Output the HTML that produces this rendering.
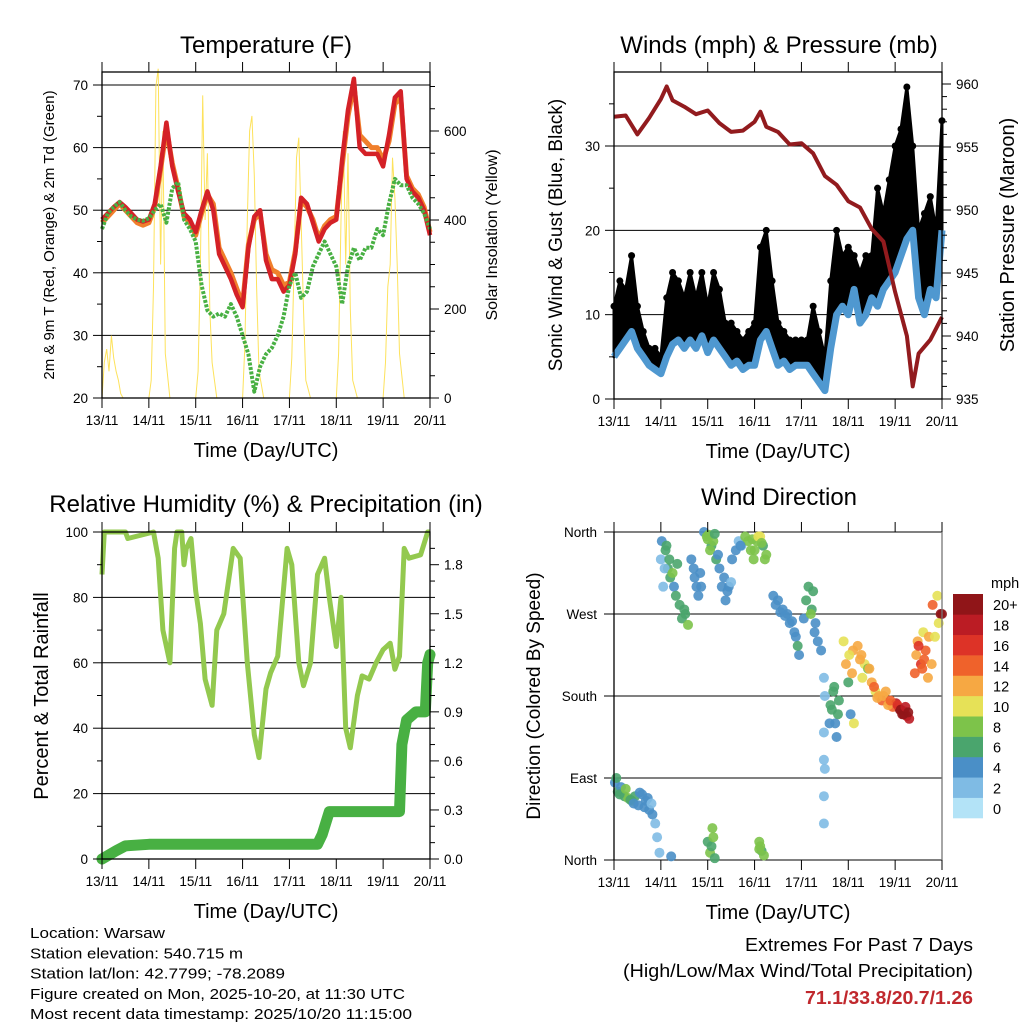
<!DOCTYPE html>
<html><head><meta charset="utf-8">
<style>
html,body{margin:0;padding:0;background:#fff;}
svg{display:block;font-family:"Liberation Sans",sans-serif;}
</style></head>
<body>
<svg id="chart" width="1024" height="1024" viewBox="0 0 1024 1024" xmlns="http://www.w3.org/2000/svg"></svg>
<script>
// ---------------- DATA ----------------
const dayLabels = ["13/11","14/11","15/11","16/11","17/11","18/11","19/11","20/11"];
const tempTimes = [0,0.125,0.25,0.375,0.5,0.625,0.75,0.875,1,1.125,1.25,1.375,1.5,1.625,1.75,1.875,2,2.125,2.25,2.375,2.5,2.625,2.75,2.875,3,3.125,3.25,3.375,3.5,3.625,3.75,3.875,4,4.125,4.25,4.375,4.5,4.625,4.75,4.875,5,5.125,5.25,5.375,5.5,5.625,5.75,5.875,6,6.125,6.25,6.375,6.5,6.625,6.75,6.875,7];
const temp2m = [48.5,49.5,50.5,51.3,50.5,49.5,48.5,48.2,48.5,51,57,64,57,53,49.5,48.5,46.5,50,53,50,43,41,39,36.5,34.5,44,49,50,42,39,39,37,38,43,52,51,48,45,47,48,48.5,58,66,71,60,59,59,59,57,62,68,69,55,53,52,50,46];
const temp9m = [48,49,50,51,50,49,48,47.6,48,50.5,56.5,63,57.5,53.5,49,48,46,49.5,52.5,51,44,42,40,37.5,35,44.5,48.5,49.5,43,40.5,40,38,38.5,43.5,51.5,50.5,48.5,45.5,47.5,48.5,49,57,65,70,62,61,60,60,58,61,67,68,55.5,53.5,52.5,50.5,46.5];
const dewpt = [47,49.5,50.5,51.3,50,49,48.5,48.3,48.7,50,51,48,53.5,54.5,48.5,47,45,38,34,33,33.5,33,35,33,30,27,21,25,27,28,30,33,38,40,36,37,41,43,45,43,41,35,41,44,42,44,44,47,46,51,55,54,54,52,51,49.5,47];
const solarTimes = [0,0.05,0.1,0.15,0.2,0.25,0.3,0.35,0.4,0.45,1.0,1.05,1.1,1.15,1.2,1.25,1.3,1.35,1.45,2.0,2.05,2.1,2.15,2.2,2.25,2.3,2.35,2.45,3.0,3.05,3.1,3.15,3.2,3.25,3.3,3.35,3.45,4.0,4.05,4.1,4.15,4.2,4.25,4.3,4.35,4.45,5.0,5.05,5.1,5.15,5.2,5.25,5.3,5.35,5.45,6.0,6.05,6.1,6.15,6.2,6.25,6.3,6.35,6.45,7];
const solarVals = [0,80,110,60,140,90,60,40,10,0,0,40,250,700,740,300,600,100,0,0,60,300,680,400,550,200,80,0,0,120,400,600,634,500,250,60,0,0,90,300,540,585,400,200,40,0,0,100,400,600,300,550,200,40,0,0,80,250,300,540,450,300,100,0,0];
const windTimes = tempTimes;
const sonicWind = [5,6,7,8,6,5,4,3.5,3,5,6.5,7,6,7,6,7.5,5.5,7,6,5,4,4.5,3.5,4,4,7,8,6,4,4.5,3.5,4,4,4,3,2,1,6,10,11,10,13,9,10,12,11,13,14,15,17,19,20,12,10,13,12,20];
const gustWind = [11,14,13,17,11,8,6,6,5,12,15,14,12,15,12,15,11,15,13,9,9,8,7,8,9,18,20,14,9,8,7,7,7,7,11,8,5,14,20,17,18,17,15,17,17,25,22,26,30,32,37,30,20,22,24,20,33];
const pressTimes = [0,0.25,0.5,0.75,1,1.125,1.25,1.5,1.75,2,2.25,2.5,2.75,3,3.125,3.25,3.5,3.75,4,4.25,4.5,4.75,5,5.25,5.5,5.75,6,6.25,6.375,6.5,6.75,7];
const pressVals = [957.4,957.5,956.0,957.3,958.8,959.8,958.7,958.2,957.6,957.9,956.9,956.2,956.3,957.0,957.8,956.6,956.2,955.2,955.3,954.5,952.7,952.0,950.7,950.2,948.5,947.5,943.5,940.0,936.0,938.6,939.7,941.5];
const rhTimes = [0,0.05,0.5,0.55,1.1,1.2,1.3,1.45,1.55,1.6,1.7,1.75,1.8,1.9,2.0,2.1,2.2,2.35,2.45,2.6,2.8,2.95,3.1,3.25,3.35,3.5,3.6,3.75,3.95,4.05,4.2,4.3,4.45,4.6,4.75,4.85,5.0,5.1,5.2,5.3,5.45,5.55,5.7,5.85,6.0,6.15,6.25,6.35,6.45,6.55,6.8,6.95,7];
const rhVals = [87,100,100,98,100,92,70,60,95,100,100,90,95,98,82,72,55,47,70,75,95,92,60,38,31,52,57,62,95,90,60,53,60,87,92,80,65,80,40,34,50,56,55,60,64,66,58,62,95,92,93,100,100];
const rainTimes = [0,0.3,0.5,1,4.6,4.7,4.85,6.35,6.4,6.5,6.7,6.9,6.95,7];
const rainVals = [0,0.05,0.08,0.09,0.09,0.15,0.29,0.29,0.7,0.85,0.9,0.9,1.2,1.25];
const dirTimes = [0.02,0.08,0.15,0.22,0.3,0.38,0.45,0.52,0.6,0.68,0.75,0.82,0.88,0.92,0.97,1.0,1.05,1.1,1.15,1.2,1.22,1.28,1.32,1.4,1.45,1.52,1.58,1.65,1.72,1.8,1.86,1.92,1.98,2.02,2.08,2.12,2.18,2.25,2.3,2.38,2.45,2.52,2.6,2.66,2.72,2.8,2.86,2.92,2.98,3.05,3.12,3.18,3.25,3.1,3.15,3.4,3.5,3.6,3.7,3.8,3.88,3.95,4.05,4.15,4.22,4.28,4.35,4.42,4.48,4.48,4.48,4.5,4.5,4.6,4.65,4.7,4.75,4.8,4.9,4.95,5.0,5.05,5.1,5.12,5.2,5.28,5.35,5.42,5.5,5.58,5.65,5.72,5.8,5.88,5.95,6.02,6.1,6.15,6.2,6.25,6.3,6.42,6.48,6.55,6.6,6.65,6.72,6.8,6.9,6.97,7.0,2.0,2.05,2.1,2.15,3.1,3.2,
 0.05,0.12,0.25,0.35,0.42,0.55,0.65,0.72,0.8,1.02,1.08,1.12,1.18,1.25,1.35,1.5,1.7,1.76,1.84,2.0,2.05,2.15,2.22,2.35,2.42,2.5,2.7,2.95,3.0,3.08,3.15,3.22,3.45,3.55,3.65,3.75,3.85,3.92,4.1,4.2,4.25,4.3,4.48,4.48,4.62,4.68,4.72,4.78,5.02,5.08,5.25,5.3,5.45,5.55,5.62,5.75,5.85,5.9,6.05,6.12,6.18,6.22,6.28,6.45,6.5,6.58,6.62,6.7,6.78,6.85,6.93,2.08,2.12,3.12];
const dirVals = [85,75,80,70,68,65,70,60,72,65,55,50,40,25,8,330,300,340,320,310,4,300,290,280,265,270,258,330,310,290,300,360,355,357,345,350,330,320,300,285,300,330,340,350,345,355,350,340,330,350,355,345,335,20,10,290,285,275,270,262,245,225,265,300,275,250,240,230,200,140,40,180,100,150,165,190,135,175,240,215,195,160,230,150,235,225,215,210,195,185,180,175,185,172,168,172,165,160,163,158,155,205,240,215,250,230,245,280,290,270,270,20,8,35,2,12,5,
 90,72,78,66,62,74,58,68,62,350,320,345,330,315,325,275,320,300,315,352,340,358,335,310,295,305,345,352,340,355,348,330,280,272,268,260,250,235,285,270,295,260,110,70,170,185,150,160,225,205,220,200,210,190,178,180,170,175,170,165,160,168,162,225,235,210,220,200,215,245,260,15,25,15];
const dirSpeed = [4,5,4,6,7,8,6,4,4,3,4,3,2,2,2,2,2,5,6,5,4,4,5,6,6,6,7,3,4,4,3,4,7,8,6,8,5,4,4,4,3,3,3,2,2,8,7,8,7,8,9,6,7,8,6,4,4,4,4,4,4,4,4,6,5,4,4,4,2,1,1,2,1,4,5,6,4,6,9,12,6,4,11,10,12,11,10,8,12,10,11,13,12,12,14,18,19,20,18,17,18,13,12,15,10,14,12,13,9,20,21,6,8,7,6,8,7,
 5,6,7,6,4,3,3,4,2,3,2,6,5,7,6,6,4,3,3,7,8,5,4,3,4,2,3,7,8,9,7,8,4,4,3,4,4,5,6,7,5,4,2,1,5,6,4,5,10,11,12,9,11,13,12,11,12,14,16,19,20,18,20,12,16,14,13,11,12,10,9,6,7,8];
const speedLabels = ["0","2","4","6","8","10","12","14","16","18","20+"];
const speedColors = ["#b3e3f7","#7fbbe4","#4a8fc7","#4aa56d","#7dc34a","#e6e157","#f6a843","#ef622b","#dd3327","#bb1c24","#901518"];

// ---------------- HELPERS ----------------
const svg = document.getElementById('chart');
const NS = "http://www.w3.org/2000/svg";
function mk(tag, attrs, parent, text){
  const e = document.createElementNS(NS, tag);
  for (const k in attrs) e.setAttribute(k, attrs[k]);
  if (text !== undefined) e.textContent = text;
  (parent || svg).appendChild(e);
  return e;
}
function lin(d0,d1,r0,r1){ return v => r0 + (v-d0)/(d1-d0)*(r1-r0); }
function pathFrom(xs, ys, sx, sy){ return xs.map((t,i)=>(i?'L':'M')+sx(t).toFixed(1)+','+sy(ys[i]).toFixed(1)).join(''); }
function panel(name){
  const g = mk('g', {});
  
  
  return g;
}
function frame(g, L, R, T, B){
  const f = mk('rect', {x:L, y:T, width:R-L, height:B-T, fill:'none', stroke:'#000', 'stroke-width':1.3}, g);
  
  
}
function timeAxis(g, sx, T, B){
  dayLabels.forEach((lab,i)=>{
    const x = sx(i);
    mk('line',{x1:x,y1:T-10,x2:x,y2:T,stroke:'#000','stroke-width':1},g);
    mk('line',{x1:x,y1:B,x2:x,y2:B+10,stroke:'#000','stroke-width':1},g);
    const t = mk('text',{x:x,y:B+27,'font-size':13.5,'text-anchor':'middle'},g,lab);
    
    
  });
  const tt = mk('text',{x:(sx(0)+sx(7))/2,y:B+59,'font-size':20,'text-anchor':'middle'},g,'Time (Day/UTC)');
  
  
}
function hgrid(g, ys, L, R){ ys.forEach(y=>mk('line',{x1:L,y1:y,x2:R,y2:y,stroke:'#000','stroke-width':1},g)); }
function title(g, x, y, s, txt){
  const t = mk('text',{x:x,y:y,'font-size':s,'text-anchor':'middle'},g,txt);
  
  
}
function vtitle(g, x, y, s, txt, name){
  const t = mk('text',{x:x,y:y,'font-size':s,'text-anchor':'middle',transform:`rotate(-90 ${x} ${y})`},g,txt);
  
  
}
function leftTicks(g, vals, labels, sy, L, minor){
  (minor||[]).forEach(v=>mk('line',{x1:L-5,y1:sy(v),x2:L,y2:sy(v),stroke:'#000'},g));
  vals.forEach((v,i)=>{
    mk('line',{x1:L-9,y1:sy(v),x2:L,y2:sy(v),stroke:'#000'},g);
    const t = mk('text',{x:L-14,y:sy(v)+5,'font-size':13.5,'text-anchor':'end'},g,labels[i]);
    
    
  });
}
function rightTicks(g, vals, labels, sy, R, minor){
  (minor||[]).forEach(v=>mk('line',{x1:R,y1:sy(v),x2:R+5,y2:sy(v),stroke:'#000'},g));
  vals.forEach((v,i)=>{
    mk('line',{x1:R,y1:sy(v),x2:R+9,y2:sy(v),stroke:'#000'},g);
    const t = mk('text',{x:R+14,y:sy(v)+5,'font-size':13.5,'text-anchor':'start'},g,labels[i]);
    
    
  });
}

// ---------------- PANEL 1 ----------------
(function(){
  const L=102,R=430,T=72,B=398;
  const g = panel('temperature-panel');
  const sx = lin(0,7,L,R), sy = lin(20,70,B,85), ss = lin(0,600,B,131);
  hgrid(g,[30,40,50,60,70].map(sy),L,R);
  const sol = mk('path',{d:pathFrom(solarTimes,solarVals,sx,ss),fill:'none',stroke:'#fde25c','stroke-width':1},g);
  
  
  const o = mk('path',{d:pathFrom(tempTimes,temp9m,sx,sy),fill:'none',stroke:'#f07f2b','stroke-width':5,'stroke-linejoin':'round'},g);
  
  
  const r = mk('path',{d:pathFrom(tempTimes,temp2m,sx,sy),fill:'none',stroke:'#d42127','stroke-width':4.5,'stroke-linejoin':'round'},g);
  
  
  const d = mk('path',{d:pathFrom(tempTimes,dewpt,sx,sy),fill:'none',stroke:'#48b043','stroke-width':4,'stroke-dasharray':'3 1.5','stroke-linejoin':'round'},g);
  
  
  frame(g,L,R,T,B);
  leftTicks(g,[20,30,40,50,60,70],["20","30","40","50","60","70"],sy,L,[25,35,45,55,65]);
  rightTicks(g,[0,200,400,600],["0","200","400","600"],ss,R,[50,100,150,250,300,350,450,500,550,650,700]);
  timeAxis(g,sx,T,B);
  title(g,266,53,24,'Temperature (F)');
  vtitle(g,54,235,15,'2m & 9m T (Red, Orange) & 2m Td (Green)','y-axis-title');
  vtitle(g,497,235,16,'Solar Insolation (Yellow)','y2-axis-title');
})();

// ---------------- PANEL 2 ----------------
(function(){
  const L=614,R=942,T=72,B=399;
  const g = panel('winds-panel');
  const sx = lin(0,7,L,R), sy = lin(0,30,B,146), sp = lin(935,960,399,84);
  hgrid(g,[10,20,30].map(sy),L,R);
  let band = windTimes.map((t,i)=>(i?'L':'M')+sx(t)+','+sy(gustWind[i])).join('');
  for(let i=windTimes.length-1;i>=0;i--) band += 'L'+sx(windTimes[i])+','+sy(sonicWind[i]);
  const gb = mk('path',{d:band+'Z',fill:'#000',stroke:'#000','stroke-width':3,'stroke-linejoin':'round'},g);
  
  
  windTimes.forEach((t,i)=>{
    const c = mk('circle',{cx:sx(t),cy:sy(gustWind[i]),r:3.5,fill:'#000'},g);
    
    
  });
  const w = mk('path',{d:pathFrom(windTimes,sonicWind,sx,sy),fill:'none',stroke:'#4f98d0','stroke-width':7,'stroke-linejoin':'round'},g);
  
  
  const p = mk('path',{d:pathFrom(pressTimes,pressVals,sx,sp),fill:'none',stroke:'#921b1e','stroke-width':4,'stroke-linejoin':'round'},g);
  
  
  frame(g,L,R,T,B);
  leftTicks(g,[0,10,20,30],["0","10","20","30"],sy,L,[5,15,25,35]);
  rightTicks(g,[935,940,945,950,955,960],["935","940","945","950","955","960"],sp,R,[936,937,938,939,941,942,943,944,946,947,948,949,951,952,953,954,956,957,958,959]);
  timeAxis(g,sx,T,B);
  title(g,779,53,24,'Winds (mph) & Pressure (mb)');
  vtitle(g,562,235,19,'Sonic Wind & Gust (Blue, Black)','y-axis-title');
  vtitle(g,1014,235,20,'Station Pressure (Maroon)','y2-axis-title');
})();

// ---------------- PANEL 3 ----------------
(function(){
  const L=102,R=430,T=532,B=859;
  const g = panel('humidity-panel');
  const sx = lin(0,7,L,R), sy = lin(0,100,B,T), sr = lin(0,2,B,T);
  hgrid(g,[20,40,60,80].map(sy),L,R);
  const rh = mk('path',{d:pathFrom(rhTimes,rhVals,sx,sy),fill:'none',stroke:'#93c94f','stroke-width':5,'stroke-linejoin':'round'},g);
  
  
  const rn = mk('path',{d:pathFrom(rainTimes,rainVals,sx,sr),fill:'none',stroke:'#48b043','stroke-width':11,'stroke-linejoin':'round','stroke-linecap':'round'},g);
  
  
  frame(g,L,R,T,B);
  leftTicks(g,[0,20,40,60,80,100],["0","20","40","60","80","100"],sy,L,[10,30,50,70,90]);
  rightTicks(g,[0,0.3,0.6,0.9,1.2,1.5,1.8],["0.0","0.3","0.6","0.9","1.2","1.5","1.8"],sr,R,[0.1,0.2,0.4,0.5,0.7,0.8,1.0,1.1,1.3,1.4,1.6,1.7,1.9]);
  timeAxis(g,sx,T,B);
  title(g,266,512,24,'Relative Humidity (%) & Precipitation (in)');
  vtitle(g,48,696,20,'Percent & Total Rainfall','y-axis-title');
})();

// ---------------- PANEL 4 ----------------
(function(){
  const L=614,R=942,T=532,B=860;
  const g = panel('wind-direction-panel');
  const sx = lin(0,7,L,R), sy = lin(0,360,B,T);
  const dirs=[0,90,180,270,360], dl=["North","East","South","West","North"];
  dirs.forEach((v,i)=>{
    mk('line',{x1:L-10,y1:sy(v),x2:R,y2:sy(v),stroke:'#000','stroke-width':1},g);
    const t = mk('text',{x:L-17,y:sy(v)+5,'font-size':13.5,'text-anchor':'end'},g,dl[i]);
    
    
  });
  dirTimes.forEach((t,i)=>{
    const bin = Math.min(10, Math.max(0, Math.floor((dirSpeed[i]+1)/2)));
    const c = mk('circle',{cx:sx(t),cy:sy(dirVals[i]),r:5,fill:speedColors[bin],'fill-opacity':0.9},g);
    
    
  });
  mk('line',{x1:L,y1:T,x2:L,y2:B,stroke:'#000','stroke-width':1.3},g);
  mk('line',{x1:R,y1:T,x2:R,y2:B,stroke:'#777','stroke-width':1.3},g);
  timeAxis(g,sx,T,B);
  title(g,779,505,24,'Wind Direction');
  vtitle(g,540,696,19,'Direction (Colored By Speed)','y-axis-title');
  const lg = mk('g',{},g);
  
  
  const top=594, bh=(818-594)/11;
  speedColors.forEach((c,i)=>{
    const y = top + (10-i)*bh;
    const r = mk('rect',{x:953,y:y,width:30,height:bh+0.3,fill:c},lg);
    
    
    const t = mk('text',{x:993,y:y+bh/2+6,'font-size':14.5},lg,speedLabels[i]);
    
    
  });
  const m = mk('text',{x:991,y:588,'font-size':14.5},lg,'mph');
  
  
})();

// ---------------- FOOTER ----------------
const info = ["Location: Warsaw","Station elevation: 540.715 m","Station lat/lon: 42.7799; -78.2089","Figure created on Mon, 2025-10-20, at 11:30 UTC","Most recent data timestamp: 2025/10/20 11:15:00"];
const infoW = [135,213,255,375,382];
info.forEach((s,i)=>{
  const t = mk('text',{x:30,y:938+i*20.3,'font-size':15,textLength:infoW[i],lengthAdjust:'spacingAndGlyphs'},svg,s);
  
  
});
const e1 = mk('text',{x:973,y:951,'font-size':18,'text-anchor':'end',textLength:228,lengthAdjust:'spacingAndGlyphs'},svg,'Extremes For Past 7 Days');


const e2 = mk('text',{x:973,y:977,'font-size':18,'text-anchor':'end',textLength:350,lengthAdjust:'spacingAndGlyphs'},svg,'(High/Low/Max Wind/Total Precipitation)');


const e3 = mk('text',{x:973,y:1004,'font-size':18,'font-weight':'bold',fill:'#c0282d','text-anchor':'end',textLength:168,lengthAdjust:'spacingAndGlyphs'},svg,'71.1/33.8/20.7/1.26');


</script>
</body></html>
